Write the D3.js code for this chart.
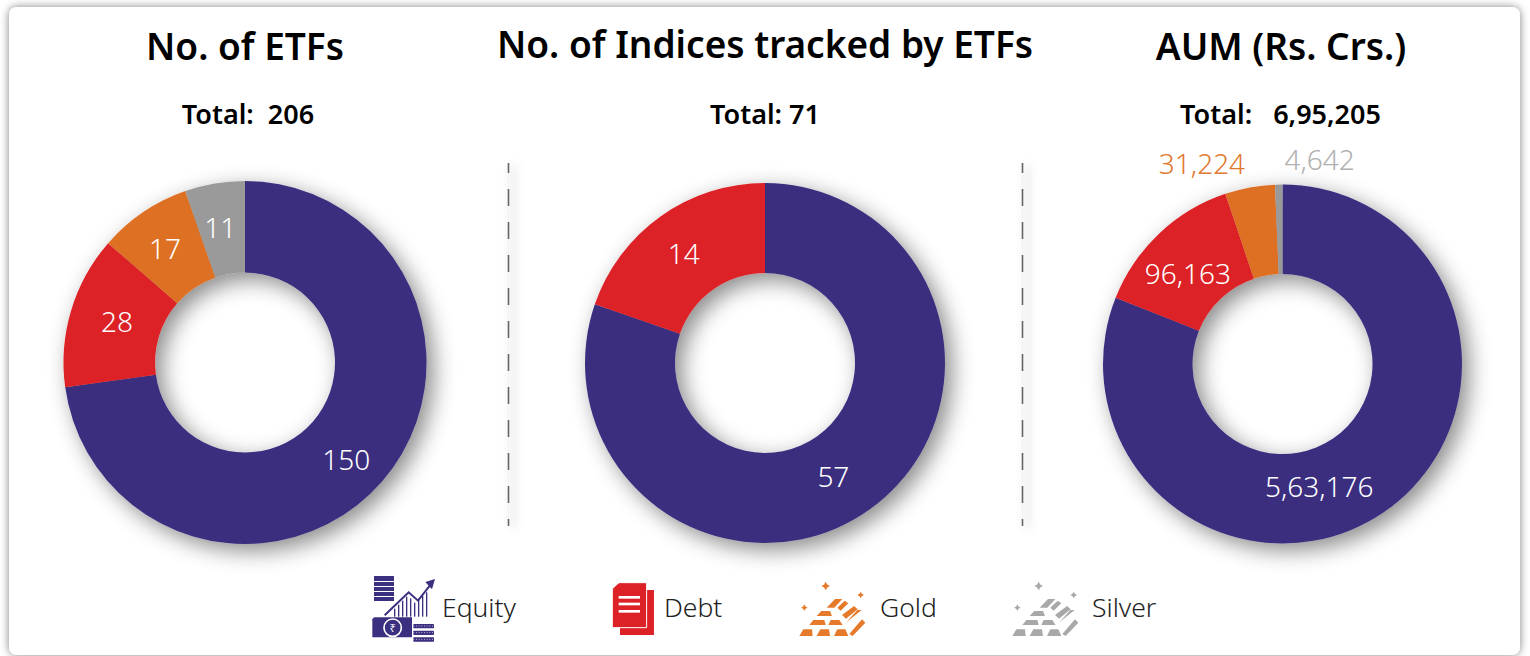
<!DOCTYPE html>
<html>
<head>
<meta charset="utf-8">
<script src="https://cdn.jsdelivr.net/npm/d3@7"></script>
<style>
  html, body { margin: 0; padding: 0; background: #fff; overflow: hidden; }
  text { font-family: "Noto Sans", sans-serif; }
  .title { font-size: 37px; font-weight: 600; fill: #000; text-anchor: middle; }
  .total { font-size: 27px; font-weight: 600; fill: #000; text-anchor: middle; }
  .value { font-size: 28px; font-weight: 300; text-anchor: middle; dominant-baseline: central; }
  .legend-label { font-size: 26.5px; font-weight: 300; fill: #222; dominant-baseline: central; }
</style>
</head>
<body>
<script>
const categories = ['Equity', 'Debt', 'Gold', 'Silver'];
const colors = ['#3b2f7f', '#dc2127', '#dd6f24', '#9a9a9a'];

const etfCounts = [150, 28, 17, 11];
const indexCounts = [57, 14];
const aumValues = [563176, 96163, 31224, 4642];

const titles = ['No. of ETFs', 'No. of Indices tracked by ETFs', 'AUM (Rs. Crs.)'];
const totals = ['Total:  206', 'Total: 71', 'Total:   6,95,205'];

// Indian digit grouping for the labels
const fmt = d => d.toLocaleString('en-IN');

const width = 1530;
const height = 656;

const svg = d3.select('body').append('svg')
    .attr('width', width)
    .attr('height', height);

const defs = svg.append('defs');

defs.append('filter').attr('id', 'cardShadow')
    .attr('x', '-2%').attr('y', '-3%').attr('width', '104%').attr('height', '106%')
  .append('feDropShadow')
    .attr('dx', 0).attr('dy', 0).attr('stdDeviation', 4.5)
    .attr('flood-color', '#000').attr('flood-opacity', 0.5);

defs.append('filter').attr('id', 'donutShadow')
    .attr('x', '-20%').attr('y', '-20%').attr('width', '145%').attr('height', '145%')
  .append('feDropShadow')
    .attr('dx', 7).attr('dy', 7).attr('stdDeviation', 11)
    .attr('flood-color', '#000').attr('flood-opacity', 0.46);

// a vertical line has an empty bounding box, so this filter needs user space units
defs.append('filter').attr('id', 'lineShadow')
    .attr('filterUnits', 'userSpaceOnUse')
    .attr('x', 480).attr('y', 140).attr('width', 600).attr('height', 410)
  .append('feDropShadow')
    .attr('dx', 5).attr('dy', 2).attr('stdDeviation', 5)
    .attr('flood-color', '#000').attr('flood-opacity', 0.3);

// White card
svg.append('rect')
    .attr('x', 9).attr('y', 7)
    .attr('width', 1511).attr('height', 648)
    .attr('rx', 8)
    .attr('fill', '#fff')
    .attr('filter', 'url(#cardShadow)');

// Dashed dividers between the panels, on an unbroken soft shadow
[508.5, 1022.5].forEach(x => {
  svg.append('line')
      .attr('x1', x).attr('x2', x)
      .attr('y1', 163).attr('y2', 526)
      .attr('stroke', '#f2f2f2')
      .attr('stroke-width', 1.6)
      .attr('filter', 'url(#lineShadow)');
  svg.append('line')
      .attr('x1', x).attr('x2', x)
      .attr('y1', 163).attr('y2', 526)
      .attr('stroke', '#666')
      .attr('stroke-width', 1.6)
      .attr('stroke-dasharray', '17 16')
      .attr('stroke-dashoffset', 7);
});

const pie = d3.pie().sort(null).value(d => d);
const panels = [
  { values: etfCounts, cx: 245, cy: 362.5, outer: 181.5, inner: 90, titleY: 60, titleX: 245, totalX: 248,
    nudges: [[-1, 7], [2, -3], [-4, -2], [-2, -2]] },
  { values: indexCounts, cx: 765, cy: 363, outer: 180, inner: 90, titleY: 57.5, titleX: 765, totalX: 765,
    nudges: [[-10, 3], [-3, 0]] },
  { values: aumValues, cx: 1282.5, cy: 364, outer: 179.5, inner: 90, titleY: 60, titleX: 1281, totalX: 1280.5,
    nudges: [[-39, 11], [-2, 7], [-56, -69], [40, -70]] }
];

panels.forEach((p, i) => {
  svg.append('text').attr('class', 'title')
      .attr('x', p.titleX).attr('y', p.titleY)
      .text(titles[i]);
  svg.append('text').attr('class', 'total')
      .attr('x', p.totalX).attr('y', 124)
      .style('white-space', 'pre')
      .text(totals[i]);

  const g = svg.append('g').attr('transform', `translate(${p.cx},${p.cy})`);
  const arc = d3.arc().innerRadius(p.inner).outerRadius(p.outer);
  const arcs = pie(p.values);

  g.append('g').attr('filter', 'url(#donutShadow)')
    .selectAll('path')
    .data(arcs)
    .join('path')
      .attr('d', arc)
      .attr('fill', (d, j) => colors[j]);

  g.selectAll('text')
    .data(arcs)
    .join('text')
      .attr('class', 'value')
      .attr('x', (d, j) => arc.centroid(d)[0] + p.nudges[j][0])
      .attr('y', (d, j) => arc.centroid(d)[1] + p.nudges[j][1])
      // the two smallest AUM slices carry their label outside, in slice colour
      .attr('fill', (d, j) => (i === 2 && j === 2) ? '#e2772f' : (i === 2 && j === 3) ? '#b0b0b0' : '#fff')
      .text(d => fmt(d.data));
});

// Legend icons, drawn in a 3x grid so they stay easy to tweak
function equityIcon(g) {
  const c = colors[0];
  g.append('rect').attr('x', 72).attr('y', 48).attr('width', 60).attr('height', 75).attr('fill', c);
  [63, 78, 93, 108].forEach(y => {
    g.append('rect').attr('x', 72).attr('y', y).attr('width', 60).attr('height', 3).attr('fill', '#fff');
  });
  d3.range(132, 232, 12).forEach((x, k) => {
    const top = [146, 134, 122, 110, 115, 128, 120, 108, 97][k];
    g.append('rect').attr('x', x).attr('y', top).attr('width', 4).attr('height', 170 - top).attr('fill', c);
  });
  g.append('path').attr('d', 'M104 166 L176 97 L204 122 L240 76').attr('fill', 'none').attr('stroke', c).attr('stroke-width', 6);
  g.append('path').attr('d', 'M255 57 L226 66 L246 88 Z').attr('fill', c);
  g.append('path').attr('d', 'M72 172 H186 V232 H67 V178 Z').attr('fill', c);
  g.append('circle').attr('cx', 128).attr('cy', 203).attr('r', 26).attr('fill', c).attr('stroke', '#fff').attr('stroke-width', 5);
  g.append('text').attr('x', 128).attr('y', 215).attr('text-anchor', 'middle')
      .attr('font-size', 34).attr('fill', '#fff').style('font-family', '"Noto Sans", "DejaVu Sans", sans-serif').text('₹');
  [192, 212, 232].forEach(y => {
    g.append('rect').attr('x', 190).attr('y', y).attr('width', 62).attr('height', 13).attr('rx', 2).attr('fill', c);
    g.append('path').attr('d', `M190 ${y + 6} H252`).attr('stroke', '#fff').attr('stroke-width', 2).attr('stroke-dasharray', '3 5');
  });
}

function debtIcon(g) {
  const c = colors[1];
  g.append('path').attr('d', 'M810 90 H912 V225 H810 Z').attr('fill', c);
  g.append('path').attr('d', 'M808 68 H890 V203 H787 V90 Z').attr('fill', c).attr('stroke', '#fff').attr('stroke-width', 3);
  g.append('path').attr('d', 'M787 88 L806 70 V88 Z').attr('fill', c);
  [108, 128, 150].forEach(y => {
    g.append('rect').attr('x', 806).attr('y', y).attr('width', 64).attr('height', 8).attr('fill', '#fff');
  });
}

const sparkles = [[137, 78, 13], [242, 105, 10], [73, 143, 10]];
const ingots = [
  'M58 228 L70 208 H96 L98 228 Z', 'M110 228 L121 208 H147 L150 228 Z', 'M162 228 L172 208 H196 L205 228 Z',
  'M88 195 L100 180 H133 L137 195 Z', 'M145 195 L152 180 H178 L188 195 Z',
  'M110 168 L124 153 H150 L156 168 Z',
  'M140 143 L165 117 H187 L163 143 Z',
  'M172 143 L194 122 L205 130 L182 152 Z',
  'M186 165 L222 138 L233 148 L198 176 Z',
  'M200 186 L245 150 L232 150 Z',
  'M208 222 L246 178 L256 188 L218 228 Z'
];

function barsIcon(g, c) {
  sparkles.forEach(s => {
    const r = s[2];
    g.append('path')
        .attr('d', `M${s[0]} ${s[1] - r} L${s[0] + r * 0.35} ${s[1] - r * 0.35} L${s[0] + r} ${s[1]} L${s[0] + r * 0.35} ${s[1] + r * 0.35} L${s[0]} ${s[1] + r} L${s[0] - r * 0.35} ${s[1] + r * 0.35} L${s[0] - r} ${s[1]} L${s[0] - r * 0.35} ${s[1] - r * 0.35} Z`)
        .attr('fill', c);
  });
  ingots.forEach(d => g.append('path').attr('d', d).attr('fill', c));
}

const equityG = svg.append('g').attr('transform', 'translate(350,560) scale(0.3333)');
equityIcon(equityG);
const debtG = svg.append('g').attr('transform', 'translate(350,560) scale(0.3333)');
debtIcon(debtG);
const goldG = svg.append('g').attr('transform', 'translate(780,560) scale(0.3333)');
barsIcon(goldG, '#e57a2b');
const silverG = svg.append('g').attr('transform', 'translate(993,560) scale(0.3333)');
barsIcon(silverG, '#a8a8a8');

const legendX = d3.scaleOrdinal().domain(categories).range([442, 664, 880, 1092]);
svg.selectAll('.legend-label')
  .data(categories)
  .join('text')
    .attr('class', 'legend-label')
    .attr('x', d => legendX(d))
    .attr('y', 607)
    .text(d => d);
</script>
</body>
</html>
